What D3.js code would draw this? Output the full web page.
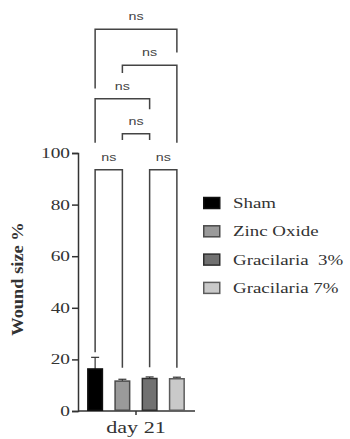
<!DOCTYPE html>
<html>
<head>
<meta charset="utf-8">
<script src="https://cdn.jsdelivr.net/npm/d3@7"></script>
<style>
  body { margin: 0; background: #fff; }
  svg { display: block; }
  text { white-space: pre; }
</style>
</head>
<body>
<div id="chart"></div>
<script>
// data
var groups = ["Sham", "Zinc Oxide", "Gracilaria  3%", "Gracilaria 7%"]
var means = [16.3, 11.6, 12.6, 12.5]
var errUp = [20.8, 12.3, 13.2, 13.1]
var fills = ["#000000", "#9a9a9a", "#717171", "#c9c9c9"]
var strokes = ["#111111", "#4a4a4a", "#2e2e2e", "#5c5c5c"]
var yTicks = [0, 20, 40, 60, 80, 100]
var xLabel = "day 21"
var yLabel = "Wound size %"
// significance brackets: group a to group b, bar height, where each leg ends
var brFrom = [0, 1, 0, 1, 0, 2]
var brTo =   [3, 3, 2, 2, 1, 3]
var brY =    [148, 134, 121, 107.5, 93.5, 93.5]
var brLegA = [125, 131, 104, 105, 22.8, 17]
var brLegB = [139, 104, 117, 105, 16.8, 16.8]
var brText = ["ns", "ns", "ns", "ns", "ns", "ns"]

var width = 350, height = 439
var sx = 1.38 // the picture is wider than the font

var svg = d3.select("#chart")
  .append("svg")
  .attr("width", width)
  .attr("height", height)

var x = d3.scaleBand()
  .domain(d3.range(groups.length))
  .range([81.5, 190.5])
  .paddingInner(0.41)
  .paddingOuter(0.205)

var y = d3.scaleLinear()
  .domain([0, 100])
  .range([411, 153])

var cx = function(i) { return x(i) + x.bandwidth() / 2 }

// y axis
var yAxis = svg.append("g")
  .attr("transform", "translate(78,0)")
  .call(d3.axisLeft(y).tickValues(yTicks).tickSize(6).tickPadding(3))
yAxis.select(".domain").attr("stroke", "#333").attr("stroke-width", 1.5)
yAxis.selectAll(".tick line").attr("stroke", "#333").attr("stroke-width", 1.5)
yAxis.selectAll(".tick text")
  .attr("font-family", "Liberation Serif")
  .attr("font-size", 14)
  .attr("fill", "#333")
  .attr("x", null)
  .attr("text-anchor", "end")
  .attr("transform", "translate(-8,0) scale(" + sx + ",1)")

// x axis
svg.append("line")
  .attr("x1", 78).attr("x2", 195)
  .attr("y1", y(0)).attr("y2", y(0))
  .attr("stroke", "#333").attr("stroke-width", 1.5)
svg.append("line")
  .attr("x1", 136).attr("x2", 136)
  .attr("y1", y(0)).attr("y2", y(0) + 4)
  .attr("stroke", "#333").attr("stroke-width", 1.5)

svg.append("text")
  .attr("transform", "translate(136,433) scale(" + sx + ",1)")
  .attr("text-anchor", "middle")
  .attr("font-family", "Liberation Serif")
  .attr("font-size", 16)
  .attr("fill", "#333")
  .text(xLabel)

svg.append("text")
  .attr("transform", "translate(23,279) rotate(-90) scale(1.15,1)")
  .attr("text-anchor", "middle")
  .attr("font-family", "Liberation Serif")
  .attr("font-weight", "bold")
  .attr("font-size", 16)
  .attr("fill", "#333")
  .text(yLabel)

// error bars
var eb = svg.selectAll(".err")
  .data(means)
  .enter().append("g")
eb.append("line")
  .attr("x1", function(d, i) { return cx(i) }).attr("x2", function(d, i) { return cx(i) })
  .attr("y1", function(d) { return y(d) }).attr("y2", function(d, i) { return y(errUp[i]) })
  .attr("stroke", "#333").attr("stroke-width", 1.2)
eb.append("line")
  .attr("x1", function(d, i) { return cx(i) - 4 }).attr("x2", function(d, i) { return cx(i) + 4 })
  .attr("y1", function(d, i) { return y(errUp[i]) }).attr("y2", function(d, i) { return y(errUp[i]) })
  .attr("stroke", "#333").attr("stroke-width", 1.2)

// bars
svg.selectAll(".bar")
  .data(means)
  .enter().append("rect")
  .attr("x", function(d, i) { return x(i) + 0.75 })
  .attr("width", x.bandwidth() - 1.5)
  .attr("y", function(d) { return y(d) })
  .attr("height", function(d) { return y(0) - y(d) - 0.75 })
  .attr("fill", function(d, i) { return fills[i] })
  .attr("stroke", function(d, i) { return strokes[i] })
  .attr("stroke-width", 1.5)

// brackets
var br = svg.selectAll(".br")
  .data(brY)
  .enter().append("g")
br.append("path")
  .attr("d", function(d, i) {
    var a = cx(brFrom[i]), b = cx(brTo[i])
    return "M" + a + "," + y(brLegA[i]) + "V" + y(d) + "H" + b + "V" + y(brLegB[i])
  })
  .attr("fill", "none")
  .attr("stroke", "#444")
  .attr("stroke-width", 1.5)
br.append("text")
  .attr("transform", function(d, i) {
    return "translate(" + (cx(brFrom[i]) + cx(brTo[i])) / 2 + "," + (y(d) - 9) + ") scale(1.3,1)"
  })
  .attr("text-anchor", "middle")
  .attr("font-family", "Liberation Sans")
  .attr("font-size", 11)
  .attr("fill", "#444")
  .text(function(d, i) { return brText[i] })

// legend
var lg = svg.selectAll(".lg")
  .data(groups)
  .enter().append("g")
  .attr("transform", function(d, i) { return "translate(203," + (203 + i * 28.3) + ")" })
lg.append("rect")
  .attr("x", 0.75).attr("y", -5.5)
  .attr("width", 16).attr("height", 11)
  .attr("fill", function(d, i) { return fills[i] })
  .attr("stroke", function(d, i) { return strokes[i] })
  .attr("stroke-width", 1.5)
lg.append("text")
  .attr("transform", "translate(30,5) scale(1.35,1)")
  .attr("font-family", "Liberation Serif")
  .attr("font-size", 14)
  .attr("fill", "#333")
  .text(function(d) { return d })
</script>
</body>
</html>
